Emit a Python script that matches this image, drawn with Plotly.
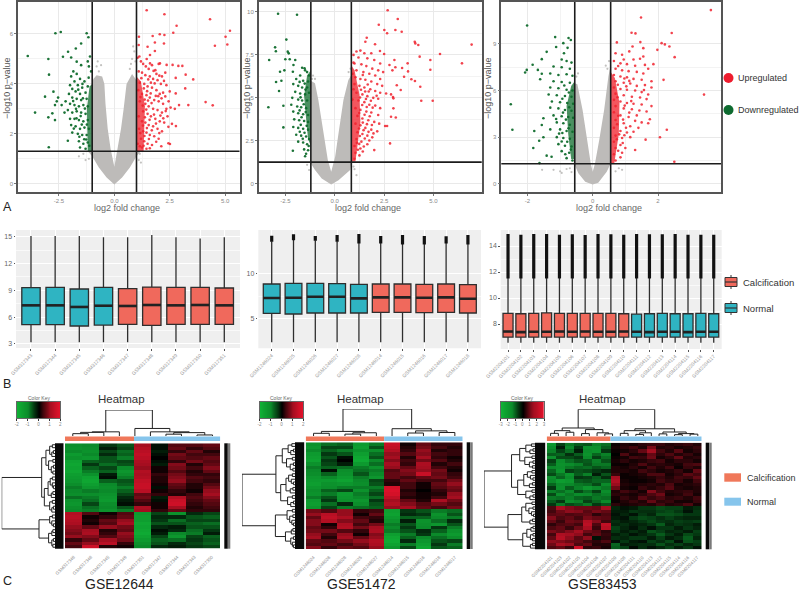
import plotly.graph_objects as go

FONT = "Liberation Sans"
W, H = 800, 591
RED, GREEN, GREY = "#F0222E", "#0F6B2C", "#BDBBB9"
SALMON, TEAL = "#F0695C", "#2FB4C2"
BAR_SALMON, BAR_BLUE = "#F0785A", "#86C5EC"

# ---------- volcano data ----------
XT1, YT1 = [-2.5, 0.0, 2.5, 5.0], [0, 2, 4, 6]
XT2, YT2 = [-2.5, 0.0, 2.5, 5.0], [0, 2.5, 5, 7.5, 10]
XT3, YT3 = [-2, 0, 2], [0, 3, 6, 9]
VL1, HL1 = [-1.0, 1.0], 1.3
VL2, HL2 = [-1.21, 0.84], 1.26
VL3, HL3 = [-0.55, 0.55], 1.29

V1 = [(0,-.03),(-.35,.25),(-.7,.65),(-1,1.1),(-1.2,1.3),(-1,1.35),(-1,4.0),(-.95,4.2),(-.8,4.35),(-.55,4.3),(-.45,4.0),(-.4,3.2),(-.3,2.2),(-.17,1.4),(0,.68),(.15,1.4),(.3,2.2),(.42,3.0),(.48,3.6),(.55,4.0),(.8,4.4),(1,4.15),(1,1.35),(1.2,1.3),(1,1.1),(.7,.65),(.35,.25)]
V2 = [(-.18,-.04),(-.66,.31),(-1,.8),(-1.21,1.18),(-1.21,6.0),(-1,5.85),(-.83,4.87),(-.57,2.93),(-.35,1.38),(-.18,.7),(.02,1.57),(.19,2.93),(.44,4.87),(.69,6.04),(.84,6.33),(.84,1.26),(.78,.8),(.19,.21)]
V3 = [(0,-.04),(-.23,.13),(-.44,.67),(-.55,1.2),(-.55,6.47),(-.47,6.41),(-.31,4.75),(-.16,2.6),(-.06,1.31),(0,.77),(.07,1.31),(.2,2.82),(.35,4.75),(.48,6.9),(.55,7.66),(.55,1.3),(.43,.77),(.17,.06)]
SPRAY1 = [(-.75,4.9),(-.8,4.7),(-.6,4.75),(.85,5.5),(.9,5.3),(.8,5.0),(.95,4.9),(.7,4.6),(-1.4,1.2),(-1.6,1.1),(-1.3,.95),(1.15,1.2),(1.1,.95),(1.2,.85),(-1.15,1.0),(.75,4.8),(-.7,4.5)]
SPRAY2 = [(-1.1,6.3),(-1,6.1),(.7,6.5),(.8,6.7),(1.1,.5),(-1.4,1.1),(-1.3,.8),(.95,1.0),(1.0,.85),(-1.15,6.1)]
SPRAY3 = [(-.5,6.9),(-.45,7.1),(.45,7.4),(.5,7.9),(.4,7.6),(-1.2,.9),(-1.0,.8),(-.95,.7),(-.8,.95),(-.7,1.0),(-1.55,.9),(.8,1.0),(.9,.9),(.7,.8),(-.65,.75)]

UP1 = [(1.46,6.95),(2.26,6.79),(2.81,6.33),(2.66,6.05),(4.32,6.59),(5.22,6.13),(5.02,5.89),(5.10,5.58),(4.54,5.53),(1.11,5.89),(1.73,5.92),(2.05,5.99),(2.26,5.96),(1.83,5.66),(1.50,5.49),(2.24,5.62),(1.83,5.32),(1.10,5.56),(1.61,5.16),(1.13,5.1),(1.46,5.0),(1.61,4.82),(2.06,4.82),(2.36,4.76),(2.63,4.76),(2.89,4.72),(3.07,4.72),(3.22,4.37),(2.77,4.24),(3.56,4.18),(3.20,3.82),(2.77,3.62),(4.12,3.27),(4.44,3.14),(3.34,3.15),(2.92,3.15),(2.54,3.05),(2.73,3.0),(2.44,2.28),(2.78,2.31),(2.51,1.59),(2.44,1.62),
(1.05,5.05),(1.2,4.9),(1.3,4.8),(1.42,4.7),(1.55,4.6),(1.7,4.75),(1.85,4.55),(2.0,4.8),(2.15,4.3),(2.3,4.45),(1.1,4.5),(1.25,4.45),(1.4,4.35),(1.6,4.3),(1.75,4.2),(1.95,4.15),(2.1,4.0),(2.35,3.95),(2.5,3.7),(1.15,4.05),(1.35,4.0),(1.5,3.9),(1.7,3.85),(1.9,3.75),(2.05,3.6),(2.3,3.5),(2.45,3.3),(1.25,3.6),(1.45,3.55),(1.6,3.45),(1.8,3.35),(2.0,3.3),(2.2,3.2),(2.35,3.0),(1.4,3.2),(1.55,3.1),(1.75,3.0),(1.95,2.95),(2.15,2.85),(1.3,2.9),(1.5,2.8),(1.65,2.7),(1.85,2.6),(2.05,2.5),(2.25,2.45),(1.25,2.5),(1.4,2.45),(1.55,2.35),(1.75,2.3),(1.95,2.2),(2.15,2.1),(1.3,2.1),(1.45,2.05),(1.6,1.95),(1.8,1.9),(2.0,1.8),(2.12,1.5),(1.2,1.8),(1.35,1.7),(1.5,1.6),(1.7,1.55),(1.25,1.45),(1.45,1.4),(1.15,3.3),(1.1,2.7),(1.12,2.2),(1.08,3.75),(1.05,1.6),(1.15,1.5),(1.65,4.05),(2.2,3.65),(1.9,4.4),(2.4,2.7),(2.6,2.4),
(1.22,4.23),(1.33,3.82),(1.18,3.47),(1.48,3.71),(1.37,3.37),(1.28,3.13),(1.64,3.62),(1.52,3.33),(1.87,3.52),(1.44,2.97),(1.68,3.23),(1.38,2.66),(1.59,2.56),(1.79,2.77),(1.29,2.33),(1.47,2.23),(1.69,2.14),(1.88,2.41),(1.17,2.03),(1.36,1.91),(1.56,1.79),(1.89,1.68),(1.32,1.52),(1.6,1.42),(1.77,4.52),(1.53,4.18),(2.03,4.33),(2.24,4.12),(1.82,4.02),(1.98,3.51),(2.13,3.42),(2.08,2.73),(2.32,2.91),(2.21,2.62),(2.03,2.03)]
DOWN1 = [(-3.91,5.12),(-2.98,5.0),(-2.95,4.37),(-2.66,6.03),(-2.42,6.08),(-1.25,6.03),(-1.17,5.87),(-1.5,5.62),(-1.74,5.42),(-2.09,5.29),(-2.32,5.09),(-1.95,5.06),(-1.70,4.89),(-2.75,3.69),(-3.13,3.49),(-3.58,2.85),(-2.98,2.66),(-2.80,2.82),(-2.68,2.55),(-2.96,1.46),(-2.54,3.45),(-2.38,3.15),(-2.68,3.15),(-2.6,3.3),
(-1.1,5.1),(-1.2,4.9),(-1.15,4.7),(-1.05,4.5),(-1.5,4.75),(-1.85,4.5),(-1.95,4.3),(-1.7,4.4),(-1.55,4.2),(-1.35,4.1),(-1.8,4.1),(-2.0,3.95),(-1.65,3.95),(-1.45,3.85),(-1.2,3.9),(-1.9,3.8),(-2.05,3.6),(-1.75,3.7),(-1.55,3.6),(-1.3,3.65),(-1.9,3.45),(-1.7,3.4),(-1.5,3.35),(-1.25,3.4),(-2.2,3.3),(-2.0,3.2),(-1.8,3.15),(-1.6,3.1),(-1.4,3.15),(-1.2,3.1),(-2.25,2.85),(-2.1,2.95),(-1.9,2.85),(-1.7,2.9),(-1.5,2.85),(-1.3,2.8),(-2.0,2.6),(-1.8,2.6),(-1.6,2.55),(-1.4,2.5),(-1.2,2.55),(-1.95,2.35),(-1.75,2.3),(-1.55,2.2),(-1.35,2.25),(-1.15,2.2),(-1.9,2.05),(-1.65,2.0),(-1.45,1.95),(-1.25,1.95),(-2.1,1.72),(-1.6,1.7),(-1.4,1.6),(-1.2,1.65),(-1.55,1.45),(-1.3,1.4),
(-1.42,3.42),(-1.63,3.77),(-1.33,3.01),(-1.52,2.71),(-1.24,2.37),(-1.47,2.37),(-1.71,2.62),(-1.86,3.31),(-1.27,1.77),(-1.83,2.21),(-1.58,1.88),(-1.36,1.78),(-1.13,1.52),(-1.73,3.0),(-1.44,4.0),(-1.16,4.25)]
DENSE_UP1 = [(1,1.3),(1,4.3),(1.2,4.1),(1.38,3.1),(1.32,1.3)]
DENSE_DOWN1 = [(-1,1.3),(-1,4.0),(-1.12,3.9),(-1.24,3.0),(-1.2,1.3)]

UP2 = [(2.68,10.1),(3.19,9.59),(2.23,9.26),(3.07,8.95),(3.39,8.85),(2.51,8.95),(2.65,8.76),(4.05,8.27),(4.08,8.17),(4.23,8.08),(6.93,8.1),(5.33,7.55),(4.3,7.4),(4.84,7.2),(6.44,7.01),(4.84,6.64),(3.02,7.2),(3.69,7.01),(2.77,6.91),(3.07,6.78),(3.41,6.74),(2.92,6.6),(3.71,6.54),(3.51,6.23),(3.88,6.08),(4.06,5.98),(4.33,5.65),(3.14,5.73),(3.34,5.46),(2.97,4.97),(4.38,4.83),(4.96,4.83),(2.97,4.39),(2.85,3.9),(3.09,3.86),(2.55,3.36),(2.65,3.36),(2.8,2.35),(2.0,1.96),(1.62,8.5),(1.55,8.27),(2.04,8.12),(2.29,7.73),(1.1,7.7),(1.3,7.75),(1.5,7.6),(1.85,7.6),(2.5,7.55),(.95,7.5),(1.2,7.35),(1.65,7.3),(2.0,7.2),(2.3,7.0),(1.0,7.0),(1.35,6.95),(1.6,6.85),(1.9,6.7),(2.2,6.6),(2.45,6.5),(1.1,6.6),(1.45,6.5),(1.75,6.4),(2.05,6.3),(2.3,6.1),(1.05,6.2),(1.3,6.1),(1.55,6.05),(1.85,5.95),(2.15,5.8),(2.4,5.7),(1.0,5.8),(1.25,5.7),(1.5,5.6),(1.8,5.5),(2.05,5.4),(2.3,5.3),(2.6,5.25),(2.85,5.2),(2.95,5.05),(1.1,5.3),(1.4,5.2),(1.65,5.1),(1.95,5.0),(2.2,4.95),(1.2,4.85),(1.5,4.75),(1.75,4.6),(2.05,4.55),(2.3,4.4),(1.05,4.4),(1.3,4.3),(1.6,4.2),(1.85,4.15),(2.2,4.0),(1.15,3.95),(1.4,3.8),(1.7,3.7),(2.0,3.6),(2.25,3.5),(1.05,3.5),(1.3,3.4),(1.55,3.25),(1.85,3.15),(2.15,3.05),(1.15,3.0),(1.4,2.9),(1.65,2.8),(1.9,2.7),(1.1,2.6),(1.35,2.45),(1.65,2.3),(1.0,2.2),(1.3,2.05),(1.05,1.8),(1.25,1.65),(1.0,1.45),(.95,7.05),(.9,6.4),(.95,5.5),(.9,4.9),
(1.42,6.33),(1.67,5.78),(1.33,5.47),(1.72,5.37),(1.28,5.02),(1.58,4.93),(1.83,4.83),(1.39,4.58),(1.62,4.47),(1.92,4.43),(1.24,4.12),(1.51,4.02),(1.77,3.93),(1.42,3.56),(1.63,3.47),(1.88,3.42),(1.23,3.22),(1.46,3.12),(1.71,3.02),(1.96,2.93),(1.27,2.78),(1.52,2.63),(1.75,2.52),(1.24,2.32),(1.47,2.17),(1.17,1.98),(1.42,1.88),(1.12,2.38),(1.54,5.37),(2.12,5.12)]
DOWN2 = [(-2.87,9.9),(-1.91,9.84),(-2.45,8.39),(-3.02,7.94),(-2.98,7.71),(-2.38,7.69),(-2.33,7.59),(-3.32,7.2),(-2.5,7.25),(-2.28,7.25),(-2.0,7.2),(-2.09,6.91),(-2.77,6.52),(-2.55,6.6),(-2.12,6.52),(-1.53,6.72),(-3.36,4.45),(-2.97,5.92),(-2.7,6.0),(-2.82,5.4),(-2.6,4.54),(-2.6,3.28),(-2.12,1.92),(-1.5,1.6),
(-1.65,6.75),(-1.5,6.6),(-1.4,6.5),(-1.3,6.3),(-1.75,6.3),(-1.95,6.1),(-1.6,6.0),(-1.35,5.95),(-2.1,5.8),(-1.85,5.7),(-1.65,5.6),(-1.4,5.6),(-2.0,5.35),(-1.75,5.25),(-1.5,5.2),(-1.3,5.3),(-2.15,5.0),(-1.85,4.9),(-1.65,4.85),(-1.4,4.85),(-2.2,4.6),(-1.9,4.5),(-1.7,4.45),(-1.45,4.4),(-2.1,4.2),(-1.85,4.1),(-1.6,4.05),(-1.35,4.0),(-2.05,3.75),(-1.8,3.7),(-1.55,3.65),(-1.35,3.6),(-2.1,3.3),(-1.85,3.25),(-1.6,3.2),(-1.35,3.15),(-1.95,2.85),(-1.7,2.8),(-1.45,2.75),(-1.3,2.6),(-1.85,2.45),(-1.6,2.4),(-1.4,2.3),(-1.55,2.0),(-1.35,1.95),(-1.45,1.75),
(-1.52,5.83),(-1.78,5.93),(-1.48,5.48),(-1.73,5.03),(-1.57,4.63),(-1.78,4.27),(-1.47,4.17),(-1.68,3.87),(-1.42,3.37),(-1.72,3.43),(-1.53,2.97),(-1.77,3.03),(-1.62,2.62),(-1.32,2.2)]
DENSE_UP2 = [(.84,1.3),(.84,6.9),(1.0,6.6),(1.25,5.2),(1.3,3.6),(1.1,2.0),(1.05,1.3)]
DENSE_DOWN2 = [(-1.21,2.2),(-1.21,6.6),(-1.4,6.3),(-1.55,5.1),(-1.45,3.8),(-1.35,2.6)]

UP3 = [(3.62,11.18),(1.48,10.7),(1.19,9.72),(1.31,9.68),(2.42,9.7),(.74,9.1),(1.46,9.12),(2.11,9.05),(2.21,8.97),(2.35,8.84),(1.98,8.62),(2.51,8.15),(1.22,8.84),(1.12,8.52),(1.55,8.73),(1.55,8.19),(1.86,7.7),(2.17,6.69),(3.41,5.74),(2.27,3.48),(2.06,2.99),(2.5,1.42),(1.62,2.84),(1.3,2.17),
(.7,8.4),(.9,8.3),(.95,8.0),(1.25,8.0),(1.45,8.05),(.65,7.9),(.85,7.75),(1.05,7.7),(1.3,7.6),(1.6,7.65),(1.7,7.4),(.7,7.4),(.9,7.3),(1.1,7.25),(1.35,7.2),(1.55,7.1),(.65,7.0),(.85,6.9),(1.05,6.85),(1.25,6.75),(1.5,6.7),(1.8,6.6),(.7,6.6),(.95,6.5),(1.15,6.45),(1.35,6.3),(1.6,6.35),(1.8,6.2),(.65,6.2),(.85,6.1),(1.05,6.05),(1.3,6.0),(1.5,5.9),(1.7,5.75),(.7,5.8),(.95,5.7),(1.2,5.6),(1.45,5.55),(1.65,5.45),(.65,5.4),(.85,5.3),(1.05,5.2),(1.25,5.15),(1.5,5.1),(1.8,5.0),(.7,5.0),(.95,4.85),(1.2,4.8),(1.35,4.4),(1.65,4.65),(1.75,4.15),(.65,4.6),(.85,4.4),(1.1,4.3),(1.3,4.05),(1.5,3.95),(1.7,3.9),(.7,4.1),(.95,3.9),(1.15,3.7),(1.4,3.6),(.65,3.6),(.85,3.4),(1.05,3.3),(1.25,3.35),(.7,3.1),(.9,2.95),(1.15,3.0),(.65,2.7),(.85,2.5),(1.0,2.3),(.7,2.3),(.9,2.0),(.65,1.9),(.85,1.7),(.7,1.5),
(.78,7.58),(.97,6.78),(.77,6.37),(1.03,6.27),(.76,5.57),(.98,5.03),(1.12,4.58),(.78,4.38),(.93,4.13),(.75,3.83),(1.02,3.61),(.81,3.18),(.97,3.12),(.74,2.87),(.92,2.62),(.78,2.13),(1.18,5.32),(1.43,4.72),(1.57,6.03),(1.12,6.62)]
DOWN3 = [(-2.01,10.19),(-1.15,9.44),(-.74,9.38),(-.67,9.25),(-.9,9.05),(-1.12,8.8),(-1.41,8.49),(-.77,8.75),(-.88,8.4),(-1.56,8.02),(-1.84,7.66),(-2.02,7.33),(-2.07,7.16),(-1.68,7.33),(-1.56,7.08),(-1.61,6.73),(-2.51,5.12),(-2.46,3.48),(-1.51,4.22),(-1.56,3.78),(-1.79,3.4),(-1.51,2.99),(-1.64,2.77),(-1.82,2.3),(-1.41,1.81),(-1.26,1.74),(-1.63,1.33),
(-.95,8.0),(-.8,7.9),(-.65,7.8),(-1.2,7.55),(-.95,7.5),(-.7,7.4),(-1.3,7.1),(-1.05,7.0),(-.8,7.05),(-.62,6.95),(-1.2,6.6),(-.95,6.55),(-.7,6.5),(-1.3,6.2),(-1.05,6.15),(-.8,6.05),(-.62,6.0),(-1.35,5.75),(-1.1,5.7),(-.85,5.65),(-.65,5.6),(-1.25,5.3),(-1.0,5.25),(-.78,5.2),(-.6,5.15),(-1.3,4.9),(-1.05,4.85),(-.85,4.75),(-.65,4.7),(-1.2,4.4),(-.95,4.35),(-.75,4.3),(-.6,4.25),(-1.1,3.95),(-.9,3.9),(-.7,3.8),(-1.3,3.5),(-1.0,3.5),(-.8,3.4),(-.62,3.35),(-1.1,3.0),(-.9,2.95),(-.7,2.9),(-1.05,2.55),(-.85,2.45),(-.65,2.4),(-.95,2.1),(-.72,2.0),(-.8,1.65),(-.62,1.5),
(-.87,6.33),(-.73,5.87),(-.93,5.47),(-.72,4.93),(-.91,4.58),(-.82,4.13),(-.74,3.57),(-.93,3.27),(-.78,2.7),(-.95,2.72),(-.67,2.2),(-.84,1.9),(-1.03,3.23),(-1.12,4.17)]
DENSE_UP3 = [(.55,1.3),(.55,7.2),(.68,6.8),(.82,5.2),(.8,3.2),(.66,1.3)]
DENSE_DOWN3 = [(-.55,1.6),(-.55,6.6),(-.66,6.3),(-.8,5.0),(-.75,3.2),(-.66,1.6)]

# ---------- box data ----------
LAB_B1 = ["GSM317343","GSM317344","GSM317345","GSM317346","GSM317347","GSM317348","GSM317349","GSM317350","GSM317351"]
Q_HI1 = [15.07,15.07,15.07,14.93,14.93,15.19,14.93,14.8,14.93]
Q3_1 = [9.3,9.33,9.15,9.33,9.19,9.37,9.33,9.33,9.26]
MED1 = [7.32,7.32,7.14,7.28,7.25,7.36,7.32,7.36,7.32]
Q1_1 = [5.16,5.16,5.01,5.12,5.2,5.09,5.2,5.2,5.2]
Q_LO1 = [3.18]*9
GROUP_B1 = ["N","N","N","N","C","C","C","C","C"]

LAB_B2 = ["GSM1246024","GSM1246025","GSM1246026","GSM1246027","GSM1246028","GSM1246014","GSM1246015","GSM1246016","GSM1246017","GSM1246018"]
Q_HI2 = [13.55,13.7,13.65,13.55,13.35,13.35,13.25,13.25,13.35,13.25]
Q3_2 = [8.85,8.93,8.93,8.89,8.81,8.85,8.85,8.81,8.85,8.78]
MED2 = [7.3,7.33,7.44,7.44,7.26,7.37,7.37,7.33,7.37,7.22]
Q1_2 = [5.59,5.52,5.63,5.63,5.63,5.7,5.7,5.67,5.7,5.63]
Q_LO2 = [2.37]*10
OUT_TOP2 = [14.22,14.37,14.19,14.3,14.41,14.19,14.3,14.19,14.15,14.3]
GROUP_B2 = ["N"]*5 + ["C"]*5

LAB_B3 = ["GSM2204%03d" % n for n in [101,102,103,104,105,106,107,108,109,110,111,112,113,114,115,116,117]]
Q_HI3 = [11.5]*17
Q3_3 = [8.82,8.79,8.82,8.85,8.82,8.82,8.82,8.82,8.82,8.79,8.76,8.79,8.82,8.79,8.79,8.82,8.79]
MED3 = [7.42,7.38,7.41,7.41,7.42,7.41,7.42,7.41,7.41,7.42,7.41,7.38,7.41,7.41,7.38,7.41,7.41]
Q1_3 = [7.0]*17
Q_LO3 = [6.56]*17
OUT_TOP3 = [14.92,14.87,14.92,14.92,14.87,14.9,14.85,14.92,14.9,14.87,14.92,14.9,14.9,14.92,14.87,14.87,14.87]
GROUP_B3 = ["C"]*10 + ["N"]*7

# ---------- heatmap data ----------
H1 = [
[-1.1,-1.0,-.4,-.6,1.0,-.1,.5,.5,.6],[-1.2,-1.1,-.2,-.5,1.2,-.1,.6,.3,.5],[-1.0,-1.2,-.5,-.8,1.3,-.2,.3,.6,.2],[-1.4,-1.0,-.3,-.7,1.4,-.1,.7,.4,.4],
[-1.2,-1.3,-.6,-.9,1.3,0,.6,.5,.6],[-1.6,-.7,-.6,-.5,1.1,-.1,.3,.7,.5],[-1.7,-.4,-.8,-.6,1.0,-.2,.8,.2,.6],[-1.6,-.7,-.5,-1.0,.9,.1,.7,.4,.8],
[-1.7,-.9,-.7,-1.3,1.2,.1,.5,.2,.6],[-1.5,-1.2,-.2,-1.1,1.1,.3,.7,.3,.3],[-1.4,-1.6,-.1,-.9,1.2,.2,.8,.5,.4],[-1.3,-1.7,-.7,-.6,1.4,.2,.9,.4,.3],
[-1.1,-1.5,-1.0,-.7,1.5,.1,.6,.2,.5],[-.9,-1.3,-1.1,-.9,1.5,-.1,.5,.2,.7],[-1.0,-.9,-1.0,-.7,1.3,.1,.3,.1,.9],[-1.1,-1.1,-1.2,-.5,.6,.3,.2,.4,1.0],
[-.8,-.9,-1.3,-.3,.7,-.2,1.2,.5,.8],[-1.2,-.8,-1.4,-.2,.5,-.1,1.5,.4,.6],[-1.3,-.5,-1.1,-.1,.3,.1,1.6,.3,.5],[-1.1,-.8,-1.0,-.6,1.1,.1,1.0,.2,.4],[-1.0,-.9,-1.2,-.9,1.0,.3,.6,.3,.3],
[1.2,.5,.1,.5,-1.4,-.5,-1.2,-.3,-.5],[1.3,.1,.3,.6,-1.5,-.3,-.3,-.6,-.7],[1.2,.2,.6,.9,-1.5,-.4,-.8,-.5,-.5],[1.1,.1,.5,1.0,-1.7,-.6,-.6,-.7,-.8],
[.9,.6,.9,.7,-1.6,-.3,-.2,-.6,-.6],[.8,1.0,.2,.6,-1.7,-.1,-.3,-.8,-.4],[.7,1.1,.3,.9,-1.8,-.2,-1.0,-.9,-.2],[.9,.8,.5,.8,-1.6,-.5,-1.3,-.5,-.7],
[.3,.6,1.0,.7,-1.4,-.7,-.8,-.4,-.6],[.6,.9,1.3,.3,-1.2,-.6,-.3,-.5,-.7],[.4,1.6,.2,.1,-1.0,-.3,-.2,-.4,-.5]]
H2 = [
[-1.2,-.8,-.7,-1.4,-.9,1.5,.1,.6,.3,.3],[-1.3,-.5,-.5,-1.5,-.6,1.4,.2,.7,.4,.2],[-1.0,-.7,-.9,-1.2,-1.1,1.2,.3,.9,.2,.3],[-1.4,-.4,-.6,-1.5,-.8,.9,.5,.8,.4,.3],
[-1.5,-.6,-.1,-1.7,-.6,1.0,.2,1.0,.3,.1],[-1.6,-.4,0,-1.8,-1.0,.8,.4,.7,.5,.2],[-1.2,-.5,-.2,-1.4,-.8,1.0,.3,1.1,.2,.4],[-.9,-.7,-.8,-.9,-1.2,.9,.6,1.0,.4,.2],
[-1.0,-.1,-1.1,-.8,-.9,.5,.8,.9,.7,.1],[-1.1,-.7,-1.2,-.6,-1.0,.6,.7,1.5,.6,.3],[-1.3,-1.0,-1.4,-.9,-1.3,.6,.4,.6,.7,.4],[-1.4,-1.4,-1.6,-1.0,-.5,.3,.6,.4,.4,.7],
[-1.5,-1.2,-1.3,-1.1,-.6,.2,.4,.1,.6,.9],[-1.3,-1.1,-.9,-.9,-.9,1.7,.4,.1,.5,.7],[-1.1,-.7,-.5,-1.2,-.7,1.8,.2,0,.3,.6],[-1.2,-.9,-1.4,-.9,-.5,1.7,.3,.1,.2,.9],
[-.9,-.6,-1.3,-1.0,-.8,1.4,.2,.1,.4,1.0],[-1.4,-.4,-1.2,-1.3,-.4,1.0,.6,.2,1.1,.7],[-1.5,-.8,-.3,-1.1,-.6,1.2,.8,.5,.7,.5],[-1.3,-.5,-.9,-.8,-.7,.9,1.0,.6,.4,.7],
[.7,.5,.9,.3,.4,-1.5,-.4,-.6,-.9,-.8],[.9,1.3,.9,.1,.6,-1.6,-.3,-.4,-1.2,-.6],[.6,1.4,1.1,.4,.3,-1.4,-.7,-.7,-1.0,-.9],[.8,1.2,.8,.6,.2,-1.2,-.2,-1.2,-.8,-.3],
[.8,.1,1.1,.4,.7,-.9,-.6,-1.1,-1.3,-.6],[.6,.3,1.2,.7,1.0,-1.0,-.4,-1.0,-.4,-.9],[.7,.7,.5,.3,1.1,-.9,-.6,-.3,-.7,-1.2],[.9,.4,.9,.1,.8,-1.5,-.9,-.4,-1.0,-1.4],
[1.0,.2,1.0,.6,.9,-1.7,-.7,-1.0,-.8,-1.1],[.6,.5,.7,.9,1.2,-1.8,-.3,-1.3,-.6,-.5],[.5,.6,.4,.7,1.1,-1.6,-.9,-1.5,-.4,-.9],[.8,.3,.6,.5,.9,-1.3,-.5,-1.7,-.6,-.7]]
H3 = [
[-2.0,-.7,-1.3,-1.0,-.9,-1.4,-1.2,.1,.3,.2,.4,.5,.5,.3,.4,.5,.3],[-1.6,-.3,-1.5,-.6,-1.8,-1.7,-1.0,.2,.4,.6,.3,1.1,.3,.4,.2,.3,.5],[-1.4,-.7,-1.2,-.3,-1.6,-1.8,-.6,.1,.2,.4,.9,1.5,.6,.3,.8,.2,.4],[-1.0,-1.1,-.5,-1.0,-1.8,-1.1,-1.4,0,.7,.2,.3,.9,.4,.7,.3,.5,.2],
[-1.7,-.8,-.8,-.6,-1.5,-.7,-1.2,.1,.2,.6,.5,1.0,.2,.4,.9,.3,.4],[-.7,-1.6,-1.2,-.9,-1.0,-1.4,-.9,.2,.4,.2,.3,.5,.6,.2,.4,.4,.2],[-1.0,-1.8,-1.6,-1.4,-.9,-1.3,-1.3,.1,.1,.3,.7,.3,.4,.3,.2,.6,.7],[-1.5,-1.7,-1.3,-1.1,-1.2,-.9,-1.1,.3,.2,.4,.2,.6,.3,.6,.1,.5,.3],
[-1.1,-1.9,-.7,-.9,-.8,-.6,-.4,.3,.3,.2,.6,.4,.2,.3,.5,.2,.9],[-.8,-1.3,-1.9,-1.0,-1.4,-.3,-.9,.5,.1,.2,.3,.7,.7,.2,.4,.8,.6],[-1.7,-1.1,-1.6,-.6,-.7,-1.0,-.5,1.5,.1,.1,.2,.3,.5,.3,.6,.5,.9],[-1.5,-2.2,-2.0,-1.0,-.9,-1.1,-1.1,1.7,.2,.1,.1,.2,.6,.4,.5,.2,.6],
[-1.1,-1.6,-1.5,-1.3,-1.2,-.8,-1.5,1.4,.3,.2,.3,.4,.3,.7,.2,.3,.4],[-.6,-1.7,-1.0,-1.4,-2.0,-1.5,-1.3,1.0,.2,.1,.5,.3,.5,.8,.3,.2,.3],[-1.4,-1.2,-1.5,-.8,-1.2,-.7,-1.6,.3,.6,.4,.2,1.2,.6,.3,.4,.5,.3],[-.8,-1.7,-1.3,-1.6,-1.5,-1.2,-1.4,.4,.3,.2,.4,.7,1.0,.2,.3,.6,.2],
[-1.3,-1.2,-1.4,-1.1,-1.0,-1.3,-1.2,.2,.5,.3,.8,.5,.7,.4,.5,.3,.6],[-1.0,-.6,-1.6,-1.4,-.7,-1.1,-1.5,.1,.3,.5,.3,.9,.4,.5,.2,.2,.5],[-.6,-1.3,-.8,-1.0,-1.3,-.6,-.9,.4,.2,.3,.4,.3,.6,.3,.4,.7,.2],
[.7,1.6,1.2,1.0,1.0,.9,1.5,-.4,-.2,-.3,-.6,-.6,-.8,-.7,-.7,-.3,-.5],[.6,1.0,1.3,1.2,.8,1.1,.9,-.3,-.3,-.6,-.5,-.5,-.7,-.8,-.6,-.2,-.6],[.8,.9,.7,.8,.9,.4,.7,-.2,-.4,-.2,-.6,-.4,-.9,-.9,-.8,-.6,-.6],[1.2,.7,.9,.6,1.1,.9,.8,-.3,-.2,-.6,-.8,-.7,-.5,-.7,-.5,-.4,-.4],
[.9,.5,1.0,.9,1.8,1.2,.6,-.5,-.3,-.4,-.6,-.8,-.6,-.5,-.7,-.6,-.7],[.4,.7,.8,.6,2.0,.7,2.1,-.4,-.5,-.3,-.4,-.6,-1.0,-.4,-.6,-.5,-.3],[.7,.9,.5,1.0,1.6,.5,1.9,-.7,-.4,-.2,-.5,-.2,-.6,-.6,-.3,-.6,-.4],[1.1,.9,1.2,1.5,1.0,.8,.4,-.6,-.3,-.5,-.3,-.9,-.7,-.4,-.5,-.3,-.7],
[.6,1.7,1.5,1.3,.6,.9,.5,-.3,-.5,-.2,-.4,-.6,-1.0,-.6,-.3,-.8,-.6],[.9,1.9,1.3,.8,1.3,-.2,.4,-.5,-.4,-.6,-.6,-.3,-.7,-.3,-.5,-1.0,-.4],[1.3,1.2,1.0,.9,.6,.4,.7,-.2,-.6,-.3,-.2,-.7,-.5,-.8,-.2,-.9,-.7],[1.0,1.6,1.4,.7,.9,.3,.3,-1.1,-.3,-.4,-.5,-.5,-.9,-.5,-.7,-.4,-.6],[.7,.9,.5,2.4,.4,.5,.2,-1.0,-.7,-.1,-.5,-.2,-.4,-.7,-.3,-.6,-.2]]
KEY1 = [-2,-1.6,-1.2,-.8,-.4,0,.4,.8,1.2,1.6,2]
KEY3 = [-3,-2.4,-1.8,-1.2,-.6,0,.6,1.2,1.8,2.4,3]
KT1, KT3 = [-2,-1,0,1,2], [-3,-2,-1,0,1,2,3]
LAB_H1 = ["GSM317348","GSM317346","GSM317345","GSM317349","GSM317351","GSM317347","GSM317344","GSM317343","GSM317350"]
LAB_H2 = ["GSM1246024","GSM1246026","GSM1246028","GSM1246025","GSM1246027","GSM1246014","GSM1246015","GSM1246016","GSM1246018","GSM1246017"]
LAB_H3 = ["GSM2204%03d" % n for n in [101,103,102,105,104,106,107,109,108,111,110,113,112,115,114,116,117]]

# dendrograms: a node is (left, right, height), a leaf is 0
COL_TREE1 = ((((0,0,.09),0,.14),0,.16), (0,(0,((0,0,.07),(0,0,.04),.13),.16),.29), 1)
COL_TREE2 = (((0,0,.1),((0,0,.07),0,.12),.17), (0,((0,0,.11),(0,0,.13),.19),.27), 1)
COL_TREE3 = ((((0,0,.1),(0,0,.14),.2),((0,0,.09),(0,(0,0,.08),.12),.24),.3), (((0,0,.1),((0,0,.06),0,.12),.2),((0,0,.08),((0,0,.05),(0,0,.07),.09),.15),.27), 1)
ROW_TREE1 = (((((0,0,.05),((0,0,.03),0,.06),.1),((0,0,.04),((0,0,.03),(0,0,.04),.07),.12),.17),(((( 0,0,.05),(0,(0,0,.03),.05),.09),((0,0,.04),0,.07),.13),((0,0,.05),((0,0,.03),0,.06),.1),.2),.25),
 (((0,0,.05),(0,(0,0,.03),.06),.1),(((0,0,.04),0,.06),((0,0,.03),(0,0,.04),.06),.12),.3),1)
ROW_TREE2 = (((((0,0,.06),((0,0,.03),0,.08),.13),((0,0,.05),((0,0,.03),(0,0,.04),.09),.16),.24),((((0,0,.05),(0,(0,0,.03),.07),.12),((0,0,.04),0,.09),.17),((0,0,.05),((0,0,.03),0,.08),.14),.27),.36),
 (((0,0,.05),((0,0,.04),(0,(0,0,.03),.06),.1),.15),(((0,0,.04),0,.07),((0,0,.03),(0,(0,0,.03),.05),.08),.18),.37),1)
ROW_TREE3 = (((((0,0,.07),((0,0,.04),0,.1),.18),((0,0,.06),((0,0,.04),(0,0,.05),.11),.2),.3),((((0,0,.06),(0,(0,0,.04),.09),.15),((0,0,.05),0,.11),.22),((0,0,.06),((0,0,.04),0,.1),.18),.34),.46),
 ((((0,0,.06),((0,0,.04),(0,(0,0,.03),.07),.12),.18),((0,0,.05),0,.1),.26),((((0,0,.04),0,.08),((0,0,.04),(0,0,.05),.09),.16),((0,0,.05),0,.09),.24),.53),1)

# ---------- building helpers ----------
traces, shapes, annotations = [], [], []
layout = dict(width=W, height=H, margin=dict(l=0, r=0, t=0, b=0, pad=0, autoexpand=False), paper_bgcolor="white", plot_bgcolor="rgba(0,0,0,0)",
              showlegend=False, font=dict(family=FONT, color="#555"), hovermode=False)
_n = [1]
BASE = dict(showgrid=False, zeroline=False, showticklabels=False, ticks="", showline=False, fixedrange=True, automargin=False)

def axes(l, t, r, b, xr, yr, xo=None, yo=None):
    _n[0] += 1
    i = _n[0]
    layout[f"xaxis{i}"] = {**BASE, "domain": [l / W, r / W], "range": xr, "anchor": f"y{i}", **(xo or {})}
    layout[f"yaxis{i}"] = {**BASE, "domain": [1 - b / H, 1 - t / H], "range": yr, "anchor": f"x{i}", **(yo or {})}
    return f"x{i}", f"y{i}"

def text(s, x, y, size, color="#333", angle=0, anchor="center"):
    annotations.append(dict(text=s, x=x / W, y=1 - y / H, xref="paper", yref="paper", showarrow=False,
                            xanchor=anchor, yanchor="middle", textangle=angle, font=dict(size=size, color=color, family=FONT)))

def prect(l, t, r, b, fill, line=None, lw=0, layer="above"):
    shapes.append(dict(type="rect", xref="paper", yref="paper", x0=l / W, x1=r / W, y0=1 - t / H, y1=1 - b / H,
                       fillcolor=fill, line=dict(color=line or fill, width=lw), layer=layer))

def split(pts):
    return [p[0] for p in pts], [p[1] for p in pts]

def poly(pts, color, xa, ya):
    x, y = split(pts)
    traces.append(go.Scatter(x=x, y=y, mode="lines", fill="toself", fillcolor=color, line=dict(width=0), xaxis=xa, yaxis=ya))

def dots(pts, color, size, xa, ya, op=.9):
    x, y = split(pts)
    traces.append(go.Scatter(x=x, y=y, mode="markers", marker=dict(color=color, size=size, opacity=op, line=dict(width=0)), xaxis=xa, yaxis=ya))

def volcano(rect, xr, yr, xt, yt, fmt, vls, hl, vee, spray, up, down, dup, ddown, ytx):
    l, t, r, b = rect
    minor = dict(showgrid=True, gridcolor="#F3F3F3", gridwidth=.6)
    common = dict(showgrid=True, gridcolor="#E9E9E9", gridwidth=1, showticklabels=True, ticks="outside", ticklen=2,
                  tickcolor="#777", tickfont=dict(size=6, color="#888", family=FONT), showline=True, mirror=True,
                  linecolor="#555", linewidth=1.5, minor=minor)
    xa, ya = axes(l, t, r, b, xr, yr, {**common, "tickvals": xt, "ticktext": [fmt(v) for v in xt],
                  "minor": {**minor, "tickvals": [(xt[i] + xt[i + 1]) / 2 for i in range(len(xt) - 1)]}},
                  {**common, "tickvals": yt, "ticktext": [("%g" % v) for v in yt],
                  "minor": {**minor, "tickvals": [(yt[i] + yt[i + 1]) / 2 for i in range(len(yt) - 1)]}})
    poly(vee, GREY, xa, ya)
    dots(spray, GREY, 2.2, xa, ya)
    poly(dup, "rgba(240,30,40,.75)", xa, ya)
    poly(ddown, "rgba(15,107,44,.75)", xa, ya)
    dots(up, RED, 2.6, xa, ya, .85)
    dots(down, GREEN, 2.6, xa, ya, .95)
    for v in vls:
        shapes.append(dict(type="line", xref=xa, yref=f"{ya} domain", x0=v, x1=v, y0=0, y1=1, line=dict(color="#1C1C1C", width=1.6)))
    shapes.append(dict(type="line", xref=f"{xa} domain", yref=ya, x0=0, x1=1, y0=hl, y1=hl, line=dict(color="#1C1C1C", width=1.6)))
    text("log2 fold change", (l + r) / 2 - 2, 208, 9, "#666")
    text("\u2212log10 p\u2212value", ytx, 88, 9, "#555", angle=-90)

def boxes(rect, xr, yr, yt, labs, hi, q3, med, q1, lo, groups, width, out_top=None, medw=2.6):
    l, t, r, b = rect
    n = len(labs)
    pos = list(range(1, n + 1))
    common = dict(showgrid=True, gridcolor="white", gridwidth=1,
                  showticklabels=True, ticks="outside", ticklen=1.5, tickcolor="#555")
    xa, ya = axes(l, t, r, b, xr, yr,
                  {**common, "tickvals": pos, "ticktext": labs, "tickangle": -45, "tickfont": dict(size=5, color="#9A9A9A", family=FONT)},
                  {**common, "tickvals": yt, "ticktext": [str(v) for v in yt], "tickfont": dict(size=7, color="#666", family=FONT),
                   "minor": dict(showgrid=True, gridcolor="#F9F9F9", gridwidth=.5, tickvals=[(yt[i] + yt[i + 1]) / 2 for i in range(len(yt) - 1)])})
    prect(l, t, r, b, "#EFEFEF", layer="below")
    for g, col in (("C", SALMON), ("N", TEAL)):
        idx = [i for i in range(n) if groups[i] == g]
        traces.append(go.Box(x=[pos[i] for i in idx], q1=[q1[i] for i in idx], median=[med[i] for i in idx], q3=[q3[i] for i in idx],
                             lowerfence=[lo[i] for i in idx], upperfence=[hi[i] for i in idx], width=width, whiskerwidth=0,
                             fillcolor=col, line=dict(color="#2E2E2E", width=1.3), boxpoints=False, xaxis=xa, yaxis=ya))
    traces.append(go.Scatter(x=pos, y=med, mode="markers", marker=dict(size=1, color="#222"), xaxis=xa, yaxis=ya,
                             error_x=dict(type="constant", value=width / 2, thickness=medw, width=0, color="#222")))
    if out_top:
        traces.append(go.Scatter(x=pos, y=hi, mode="markers", marker=dict(size=1, color="#111"), xaxis=xa, yaxis=ya,
                                 error_y=dict(type="data", symmetric=False, array=[a - c for a, c in zip(out_top, hi)],
                                              arrayminus=[0] * n, thickness=3.2, width=0, color="#111")))

CSCALE = [[0, "#10B236"], [.25, "#0B8A2A"], [.5, "#000000"], [.75, "#A50E20"], [1, "#E8122C"]]

def tree_lines(tree):
    leaves = [0]
    xs, ys = [], []
    def walk(node):
        if node == 0:
            leaves[0] += 1
            return leaves[0] - 1, 0.0
        a, ah = walk(node[0])
        b, bh = walk(node[1])
        h = node[2]
        xs.extend([a, a, b, b, None])
        ys.extend([ah, h, h, bh, None])
        return (a + b) / 2, h
    walk(tree)
    return xs, ys, leaves[0]

def heat(box, keyrect, key, kt, z, labs, ngroup, col_tree, row_tree, coltop, treel, treer, massl, lab_r, title_x, name_x, name):
    l, t, r, b = box
    nc, nr = len(z[0]), len(z)
    zm = max(key)
    xa, ya = axes(l, t, r, b, [-.5, nc - .5], [nr - .5, -.5],
                  {"showticklabels": True, "tickvals": list(range(nc)), "ticktext": labs, "tickangle": -45,
                   "tickfont": dict(size=4.5, color="#8E8E8E", family=FONT), "ticks": "outside", "ticklen": 3, "tickcolor": "white"})
    traces.append(go.Heatmap(z=z, colorscale=CSCALE, zmin=-zm, zmax=zm, showscale=False, xaxis=xa, yaxis=ya))
    shapes.append(dict(type="rect", xref=xa, yref="paper", x0=-.5, x1=ngroup - .5, y0=1 - 441 / H, y1=1 - 436.5 / H, fillcolor=BAR_SALMON, line=dict(width=0)))
    shapes.append(dict(type="rect", xref=xa, yref="paper", x0=ngroup - .5, x1=nc - .5, y0=1 - 441 / H, y1=1 - 436.5 / H, fillcolor=BAR_BLUE, line=dict(width=0)))
    cx, cy, n = tree_lines(col_tree)
    xa2, ya2 = axes(l, coltop, r, 436, [-.5, n - .5], [0, 1])
    traces.append(go.Scatter(x=cx, y=cy, mode="lines", line=dict(color="#222", width=1), xaxis=xa2, yaxis=ya2))
    ry, rx, n = tree_lines(row_tree)
    xa3, ya3 = axes(treel, t, treer, b, [1, 0], [n - .5, -.5])
    traces.append(go.Scatter(x=rx, y=ry, mode="lines", line=dict(color="#222", width=1), xaxis=xa3, yaxis=ya3))
    prect(massl, t, l - 1.5, b, "#080808")
    prect(lab_r, t, lab_r + 3.5, b, "#0A0A0A")
    prect(lab_r + 3.5, t, lab_r + 6, b, "#7A7A7A")
    kl, kr = keyrect
    xk, yk = axes(kl, 402, kr, 418, [min(key), max(key)], [0, 1],
                  {"showticklabels": True, "tickvals": kt, "ticktext": [str(v) for v in kt], "ticks": "outside", "ticklen": 2,
                   "tickcolor": "#333", "tickfont": dict(size=4.5, color="#888", family=FONT), "showline": True, "mirror": True, "linecolor": "#666", "linewidth": .6},
                  {"showline": True, "mirror": True, "linecolor": "#666", "linewidth": .6})
    traces.append(go.Heatmap(z=[key], x=key, y=[.5], colorscale=CSCALE, zmin=-zm, zmax=zm, showscale=False, zsmooth="best", xaxis=xk, yaxis=yk))
    text("Color Key", (kl + kr) / 2, 397.5, 5, "#666")
    text("Heatmap", title_x, 399, 11.5, "#333")
    text(name, name_x, 584, 14, "#222")

# ---------- assemble ----------
volcano((18, 2, 239.5, 192), [-4.35, 5.65], [-.33, 7.28], XT1, YT1, lambda v: "%.1f" % v, VL1, HL1, V1, SPRAY1, UP1, DOWN1, DENSE_UP1, DENSE_DOWN1, 7)
volcano((258.7, 2, 481.7, 192), [-3.85, 7.44], [-.48, 10.58], XT2, YT2, lambda v: "%.1f" % v, VL2, HL2, V2, SPRAY2, UP2, DOWN2, DENSE_UP2, DENSE_DOWN2, 247)
volcano((501.3, 2, 721, 192), [-2.8, 3.93], [-.53, 11.7], XT3, YT3, lambda v: "%d" % v, VL3, HL3, V3, SPRAY3, UP3, DOWN3, DENSE_UP3, DENSE_DOWN3, 488)

boxes((16, 230, 240, 348), [.38, 9.65], [2.55, 15.75], [3, 6, 9, 12, 15], LAB_B1, Q_HI1, Q3_1, MED1, Q1_1, Q_LO1, GROUP_B1, .76)
boxes((258.3, 230, 481, 348.3), [.385, 10.6], [1.71, 14.85], [5, 10], LAB_B2, Q_HI2, Q3_2, MED2, Q1_2, Q_LO2, GROUP_B2, .77, OUT_TOP2)
boxes((500.7, 230, 721.7, 349), [.43, 17.62], [6.08, 15.23], [8, 10, 12, 14], LAB_B3, Q_HI3, Q3_3, MED3, Q1_3, Q_LO3, GROUP_B3, .78, OUT_TOP3)

heat((65, 443.3, 220.3, 548.7), (16.7, 60.3), KEY1, KT1, H1, LAB_H1, 4, COL_TREE1, ROW_TREE1, 410, 1.7, 55, 55, 224.3, 121, 119, "GSE12644")
heat((305.7, 442.3, 462.7, 549), (259.5, 303.3), KEY1, KT1, H2, LAB_H2, 5, COL_TREE2, ROW_TREE2, 409, 242, 295, 295, 466.7, 360, 361.7, "GSE51472")
heat((546.7, 442.7, 701.7, 549.3), (500.7, 544), KEY3, KT3, H3, LAB_H3, 7, COL_TREE3, ROW_TREE3, 409.3, 484, 535, 535, 705.7, 602, 602, "GSE83453")

text("A", 7, 207, 12.5, "#222")
text("B", 7, 384, 12.5, "#222")
text("C", 7, 581, 12.5, "#222")

shapes.append(dict(type="circle", xref="paper", yref="paper", x0=723.5 / W, x1=733.5 / W, y0=1 - 83 / H, y1=1 - 73 / H, fillcolor="#EE1C2E", line=dict(width=0)))
shapes.append(dict(type="circle", xref="paper", yref="paper", x0=723.5 / W, x1=733.5 / W, y0=1 - 115 / H, y1=1 - 105 / H, fillcolor="#0E6B30", line=dict(width=0)))
text("Upregulated", 735.5, 78, 9, "#333", anchor="left")
text("Downregulated", 735.5, 110, 9, "#333", anchor="left")
for yc, col, lab in ((282, SALMON, "Calcification"), (308, TEAL, "Normal")):
    shapes.append(dict(type="line", xref="paper", yref="paper", x0=731 / W, x1=731 / W, y0=1 - (yc - 7) / H, y1=1 - (yc + 7) / H, line=dict(color="#333", width=1)))
    prect(725, yc - 4.5, 737, yc + 4.5, col, "#333", 1)
    shapes.append(dict(type="line", xref="paper", yref="paper", x0=725 / W, x1=737 / W, y0=1 - yc / H, y1=1 - yc / H, line=dict(color="#333", width=1.2)))
    text(lab, 741, yc, 9.5, "#333", anchor="left")
prect(724.3, 473.3, 741, 481.7, BAR_SALMON)
prect(724.3, 497.7, 741, 505.7, BAR_BLUE)
text("Calcification", 745, 477.7, 9, "#333", anchor="left")
text("Normal", 745, 501.7, 9, "#333", anchor="left")

layout["shapes"] = shapes
layout["annotations"] = annotations
fig = go.Figure(data=traces, layout=layout)
fig.write_html("out.html", config={"displayModeBar": False},
               post_script="document.body.style.margin='0';document.documentElement.style.overflow='hidden';")
